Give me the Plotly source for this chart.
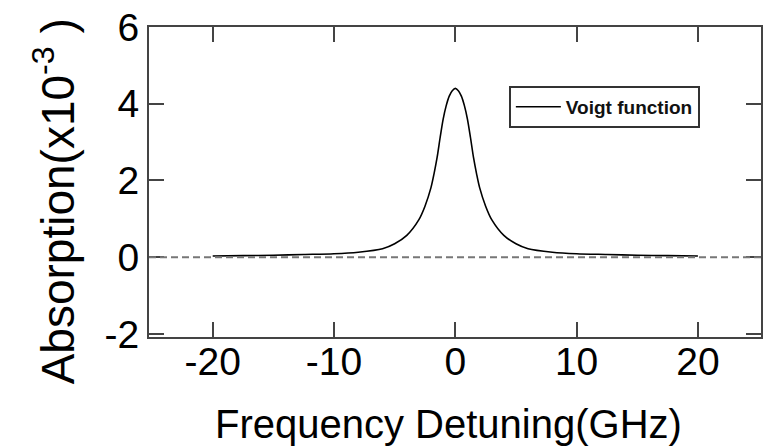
import plotly.graph_objects as go

# Detuning (GHz) and absorption (x10^-3)
detuning = [-20, -17.5, -15, -12.5, -10, -8, -6, -5, -4, -3, -2.5, -2, -1.75, -1.5, -1.25, -1,
            -0.75, -0.5, -0.25, 0, 0.25, 0.5, 0.75, 1, 1.25, 1.5, 1.75, 2, 2.5, 3, 4, 5, 6, 8,
            10, 12.5, 15, 17.5, 20]
absorption = [0.03, 0.04, 0.05, 0.07, 0.09, 0.13, 0.22, 0.35, 0.57, 0.98, 1.33, 1.82, 2.18, 2.60,
              3.12, 3.60, 3.95, 4.20, 4.34, 4.40, 4.34, 4.20, 3.95, 3.60, 3.12, 2.60, 2.18, 1.82,
              1.33, 0.98, 0.57, 0.35, 0.22, 0.13, 0.09, 0.07, 0.05, 0.04, 0.03]

x_ticks = [-20, -10, 0, 10, 20]
y_ticks = [-2, 0, 2, 4, 6]
x_range = [-25.25, 25.2]
y_range = [-2.08, 6.0]

FONT = "Liberation Sans, Arial, sans-serif"
AX = "#444444"

fig = go.Figure()
fig.add_trace(go.Scatter(
    x=detuning, y=absorption, mode="lines", name="<b>Voigt function</b>",
    line=dict(color="black", width=1.6, shape="spline", smoothing=0.8),
))

# dashed zero line
fig.add_shape(type="line", xref="paper", yref="y", x0=0, x1=1, y0=0, y1=0,
              line=dict(color="#777777", width=2, dash="7px,4px"))

axis_common = dict(
    showline=True, linecolor=AX, linewidth=1.8, mirror="allticks",
    ticks="inside", ticklen=15, tickwidth=1.5, tickcolor=AX,
    showgrid=False, zeroline=False,
    tickfont=dict(family=FONT, size=39, color="black"),
)

fig.update_xaxes(range=x_range, tickvals=x_ticks, ticktext=[str(v) for v in x_ticks],
                 ticklabelstandoff=-11, **axis_common)
fig.update_yaxes(range=y_range, tickvals=y_ticks, ticktext=[str(v) for v in y_ticks], **axis_common)

fig.update_layout(
    width=769, height=448,
    margin=dict(l=149, r=6, t=27, b=111),
    plot_bgcolor="white", paper_bgcolor="white",
    showlegend=True,
    legend=dict(
        x=0.588, y=0.81, xanchor="left", yanchor="top",
        bordercolor="#333333", borderwidth=2, bgcolor="white",
        font=dict(family=FONT, size=19, color="#111111"),
        itemwidth=45,
    ),
    annotations=[
        dict(text="Absorption(x10<sup>-3</sup> )", xref="paper", yref="paper",
             x=-0.1547, y=0.4387, xanchor="center", yanchor="middle", textangle=-90,
             showarrow=False, font=dict(family=FONT, size=46, color="black")),
        dict(text="Frequency Detuning(GHz)", xref="paper", yref="paper",
             x=0.4886, y=-0.281, xanchor="center", yanchor="middle",
             showarrow=False, font=dict(family=FONT, size=40, color="black")),
    ],
)

fig.write_html("out.html")
